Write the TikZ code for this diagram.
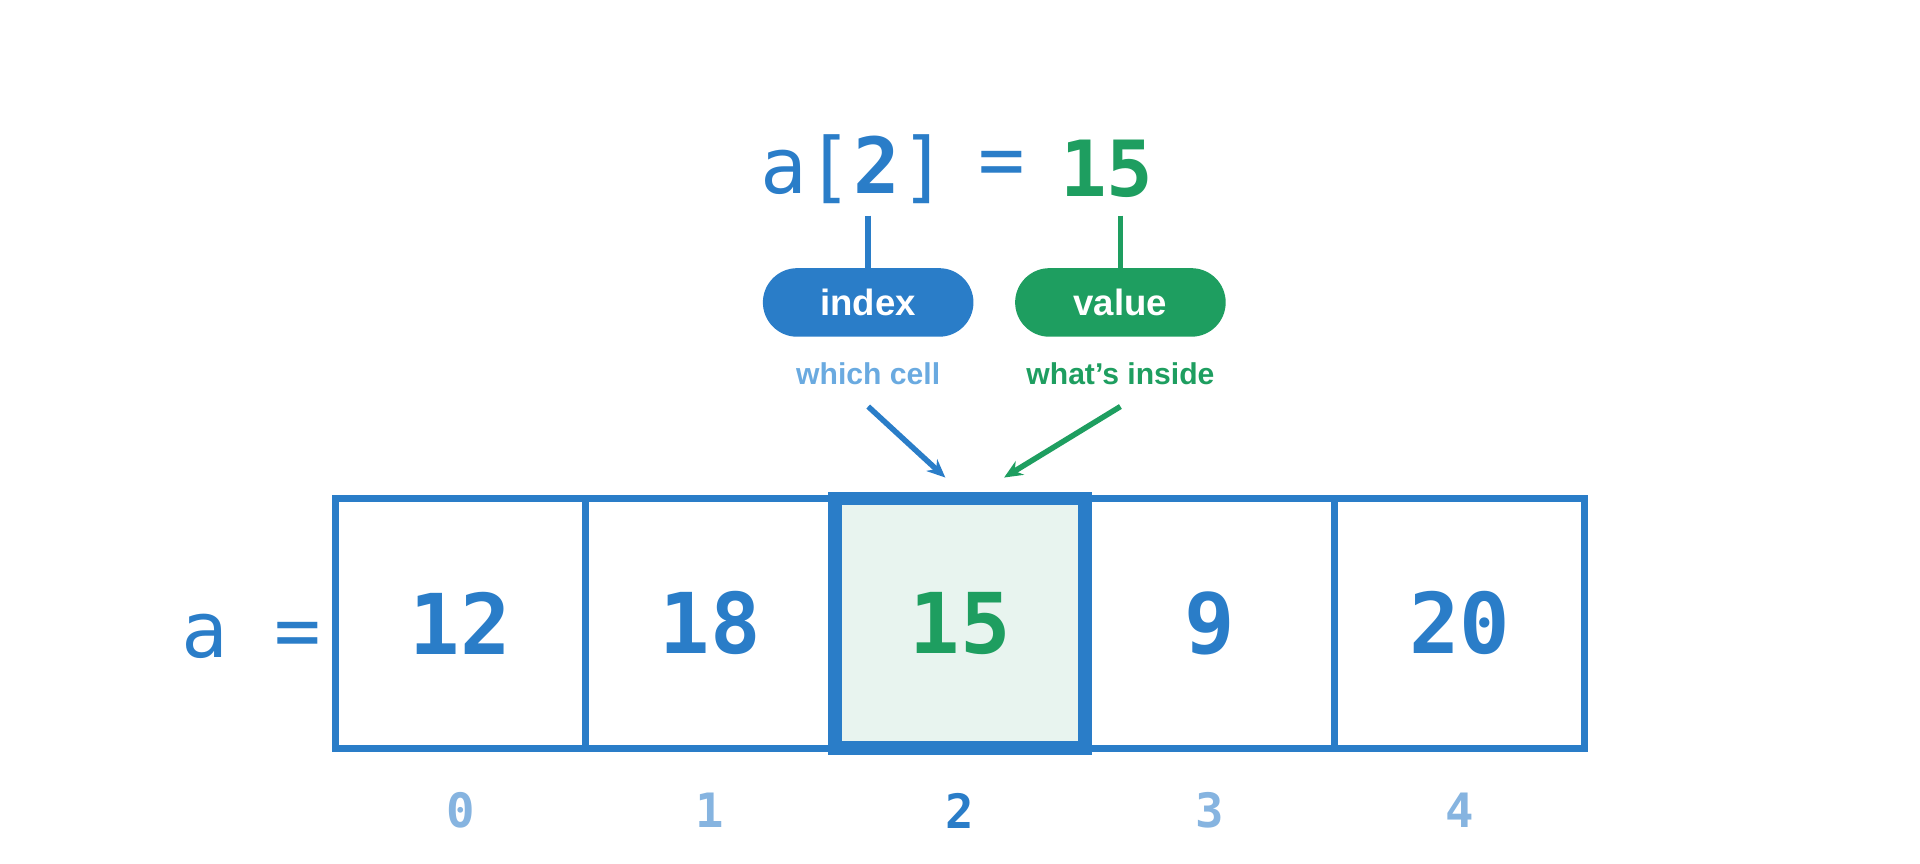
\documentclass[tikz,border=0pt]{standalone}
\usepackage{fontspec}
\setmainfont{Liberation Sans}
\setmonofont{DejaVu Sans Mono}
\usetikzlibrary{positioning, arrows.meta}
\definecolor{idxblue}{HTML}{2A7DC8}
\definecolor{valgreen}{HTML}{1E9E60}
\definecolor{softblue}{HTML}{6AAAE0}
\definecolor{paleblue}{HTML}{86B4E0}
\definecolor{palegreen}{HTML}{E8F4EF}

\begin{document}
\begin{tikzpicture}[x=0.02cm, y=-0.02cm,
		cell/.style={rectangle, draw=idxblue, line width=1.1mm, minimum size=4.08cm, inner sep=0pt, font=\ttfamily\bfseries\fontsize{39}{39}\selectfont, text=idxblue},
		pick/.style={cell, line width=2.2mm, fill=palegreen, text=valgreen},
		slot/.style={font=\ttfamily\bfseries\fontsize{22}{22}\selectfont, text=paleblue},
		code/.style={font=\ttfamily\fontsize{36}{36}\selectfont, inner sep=0pt},
		pill/.style={rounded corners=5.6mm, minimum width=3.44cm, minimum height=1.12cm, text=white, font=\bfseries\fontsize{17}{17}\selectfont},
		note/.style={font=\bfseries\fontsize{14}{14}\selectfont},
		>={Stealth[length=3mm, width=2.6mm]}
	]
	\useasboundingbox (0,0) rectangle (1568,705);

	\foreach \i/\v in {0/12, 1/18, 3/9, 4/20}
		\node[cell] (c\i) at (376+204*\i, 509) {\v};
	\node[pick] (c2) at (784, 509) {15};

	\foreach \i in {0,1,3,4}
		\node[slot] (n\i) at (376+204*\i, 662) {\i};
	\node[slot, text=idxblue] (n2) at (784, 662) {2};

	\node[code, text=idxblue] (name) at (205, 520) {a =};

	% the expression on top
	\node[code, text=idxblue] (expr) at (697, 138) {a[\textbf{2}]};
	\node[code, text=idxblue] (eq) at (818, 138) {=};
	\node[code, text=valgreen, font=\ttfamily\bfseries\fontsize{36}{36}\selectfont] (val) at (904, 138) {15};

	\node[pill, fill=idxblue] (index) at (709, 247) {index};
	\node[pill, fill=valgreen] (value) at (915, 247) {value};
	\node[note, text=softblue] (which) at (709, 305) {which cell};
	\node[note, text=valgreen] (inside) at (915, 305) {what's inside};

	\coordinate (i1) at (709, 176);
	\coordinate (v1) at (915, 176);
	\coordinate (i2) at (709, 332);
	\coordinate (v2) at (915, 332);
	\coordinate (i3) at (772, 390);
	\coordinate (v3) at (820, 390);

	\draw[idxblue, line width=0.9mm] (i1) -- (index.north);
	\draw[valgreen, line width=0.9mm] (v1) -- (value.north);
	\draw[->, idxblue, line width=0.9mm] (i2) -- (i3);
	\draw[->, valgreen, line width=0.9mm] (v2) -- (v3);
\end{tikzpicture}
\end{document}
